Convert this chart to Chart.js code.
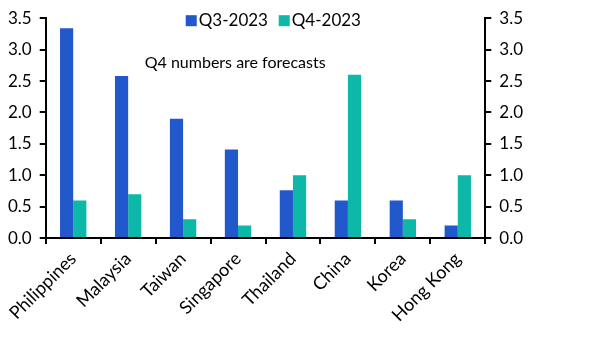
<!DOCTYPE html>
<html>
<head>
<meta charset="utf-8">
<script src="https://cdn.jsdelivr.net/npm/chart.js@4"></script>
<style>
  html, body { margin: 0; padding: 0; background: #fff; }
  #wrap { width: 606px; height: 338px; }
</style>
</head>
<body>
<div id="wrap"><canvas id="chart"></canvas></div>
<script>
const countries = ['Philippines','Malaysia','Taiwan','Singapore','Thailand','China','Korea','Hong Kong']
const q3 = [3.34, 2.58, 1.9, 1.41, 0.76, 0.6, 0.6, 0.2]
const q4 = [0.6, 0.7, 0.3, 0.2, 1.0, 2.6, 0.3, 1.0]
const seriesNames = ['Q3-2023', 'Q4-2023']
const note = 'Q4 numbers are forecasts'

const BLUE = '#2159cc'
const TEAL = '#0db8a8'
const FONT = 'Lato, "Open Sans", sans-serif'

// legend + note drawn inside the plot area, like the original
const overlay = {
  id: 'overlay',
  afterDraw(chart) {
    const { ctx, chartArea } = chart
    ctx.save()
    ctx.font = '17px ' + FONT
    ctx.textBaseline = 'middle'
    const y = chartArea.top + 2
    let x = chartArea.left + 140
    const colors = [BLUE, TEAL]
    seriesNames.forEach((name, i) => {
      ctx.fillStyle = colors[i]
      ctx.fillRect(x, y - 5, 11, 11)
      ctx.fillStyle = '#000'
      ctx.textAlign = 'left'
      ctx.fillText(name, x + 13, y)
      x += 93
    })
    ctx.font = '16px ' + FONT
    ctx.fillText(note, chartArea.left + 99, chartArea.top + 45)
    ctx.restore()
  }
}

const axisTicks = { color: '#000', font: { size: 17, family: FONT }, padding: 8 }

new Chart(document.getElementById('chart'), {
  type: 'bar',
  data: {
    labels: countries,
    datasets: [
      { label: seriesNames[0], data: q3, backgroundColor: BLUE, yAxisID: 'y' },
      { label: seriesNames[1], data: q4, backgroundColor: TEAL, yAxisID: 'y' }
    ]
  },
  options: {
    responsive: true,
    maintainAspectRatio: false,
    animation: false,
    datasets: { bar: { categoryPercentage: 0.48, barPercentage: 1 } },
    layout: { padding: { top: 6, left: 0, right: 75, bottom: 8 } },
    plugins: { legend: { display: false }, tooltip: { enabled: false } },
    scales: {
      x: {
        grid: { offset: true, drawOnChartArea: false, drawTicks: true, tickLength: 6, color: '#000', lineWidth: 2 },
        border: { color: '#000', width: 2 },
        ticks: { color: '#000', font: { size: 18, family: FONT }, minRotation: 45, maxRotation: 45, padding: 4 }
      },
      y: {
        position: 'left',
        min: 0, max: 3.5,
        grid: { drawOnChartArea: false, drawTicks: true, tickLength: 6, color: '#000', lineWidth: 2 },
        border: { color: '#000', width: 2 },
        ticks: { ...axisTicks, stepSize: 0.5, callback: v => v.toFixed(1) }
      },
      y2: {
        position: 'right',
        min: 0, max: 3.5,
        grid: { drawOnChartArea: false, drawTicks: true, tickLength: 6, color: '#000', lineWidth: 2 },
        border: { color: '#000', width: 2 },
        ticks: { ...axisTicks, stepSize: 0.5, callback: v => v.toFixed(1) }
      }
    }
  },
  plugins: [overlay]
})
</script>
</body>
</html>
